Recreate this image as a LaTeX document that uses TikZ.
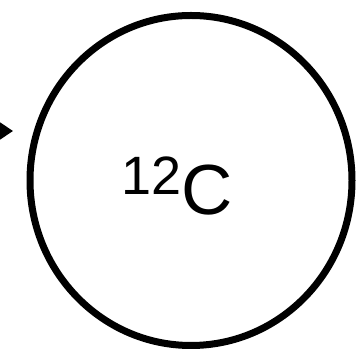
\documentclass[tikz,border=0pt]{standalone}
\usepackage{fontspec}
\setmainfont{Liberation Sans}
\usetikzlibrary{arrows.meta}

\begin{document}
\begin{tikzpicture}[x=1pt, y=1pt,
			>={Triangle[length=14pt,width=18pt]}, %Pfeilspitze
			atom/.style={line width=7pt},
			label/.style={inner sep=0pt, anchor=base west}]
			%Bildbereich
			\useasboundingbox (0,0) rectangle (356,350);
			% Kern
			\coordinate (atom) at (191,169.5);
			\draw[atom] (atom) ellipse [x radius=161, y radius=165];
			% Beschriftung
			\node[label] (name) at (121,135)
				{\raisebox{20pt}{\fontsize{54}{60}\selectfont 12}\fontsize{71}{84}\selectfont C};
			% Pfeil von links
			\coordinate (src) at (-40,219);
			\coordinate (tip) at (13,219);
			\draw[->, line width=3pt] (src) -- (tip);
\end{tikzpicture}
\end{document}
